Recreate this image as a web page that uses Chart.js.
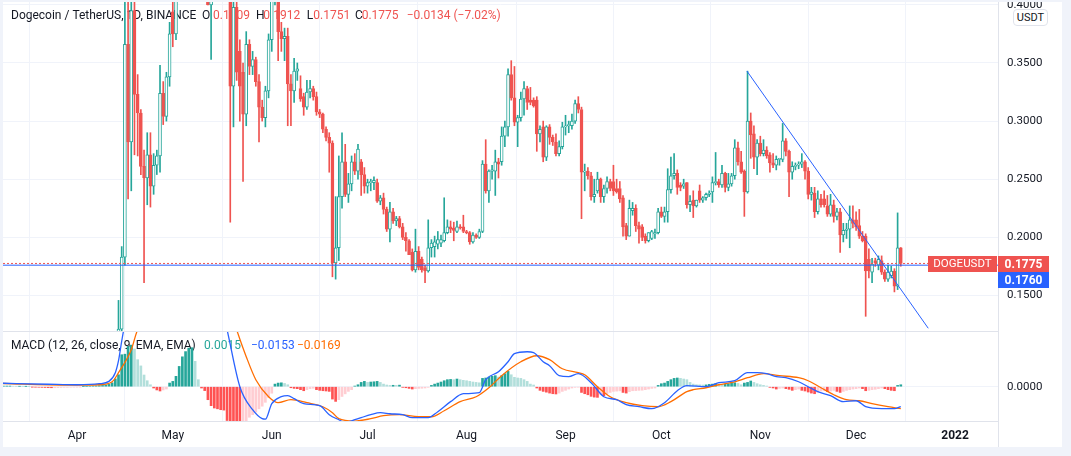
<!DOCTYPE html>
<html><head><meta charset="utf-8">
<script src="https://cdn.jsdelivr.net/npm/chart.js@4.4.1/dist/chart.umd.min.js"></script>
<style>
html,body{margin:0;padding:0;width:1071px;height:456px;overflow:hidden;background:#f0f3fa;}
#wrap{position:absolute;left:3px;top:2px;width:1059px;height:445px;background:#ffffff;overflow:hidden;}
canvas{position:absolute;left:0;}
#cA{top:0;} #cB{top:330px;}
#usdt{position:absolute;left:1010px;top:7px;width:33px;height:15px;border:1px solid #e0e3eb;border-radius:4px;background:#fff;font:11px Roboto,sans-serif;color:#131722;text-align:center;line-height:15px;}
</style></head><body>
<div id="wrap"><canvas id="cA" width="1059" height="330"></canvas><canvas id="cB" width="1059" height="115"></canvas><div id="usdt">USDT</div></div>
<script>
// ---------- data (day index: 0 = 1 Apr 2021) ----------
const monthDays   = [0,30,61,91,122,153,183,214,244,275];
const monthLabels = ['Apr','May','Jun','Jul','Aug','Sep','Oct','Nov','Dec','2022'];
const priceTicks  = [0.15,0.2,0.25,0.3,0.35,0.4];
const macdTicks   = [0];

const candleStart = 12;
const opens = [
.071,.0935,.121,.183,.366,.282,.395,.323,.307,.261,
.251,.271,.244,.262,.270,.324,.304,.338,.394,.375,
.45,.50,.55,.60,.64,.68,.65,.56,.50,.48,
.40,.48,.51,.50,.51,.46,.47,.33,.398,.36,
.342,.306,.366,.347,.353,.334,.312,.303,.326,.37,
.42,.43,.377,.371,.373,.332,.326,.343,.328,.321,
.312,.325,.328,.321,.308,.306,.293,.286,.281,.178,
.191,.235,.265,.237,.246,.265,.257,.265,.254,.244,
.247,.247,.247,.231,.234,.224,.207,.222,.214,.216,
.209,.200,.197,.187,.172,.188,.181,.174,.171,.191,
.192,.194,.195,.197,.204,.209,.208,.205,.209,.209,
.205,.204,.196,.202,.200,.205,.263,.240,.257,.257,
.265,.265,.287,.295,.340,.320,.299,.303,.319,.328,
.318,.318,.318,.289,.295,.269,.295,.286,.282,.272,
.278,.295,.296,.296,.300,.315,.310,.256,.257,.253,
.235,.240,.250,.235,.242,.248,.248,.242,.242,.234,
.210,.201,.223,.225,.210,.209,.201,.197,.199,.203,
.204,.222,.218,.222,.241,.253,.255,.245,.244,.247,
.228,.232,.227,.240,.232,.234,.237,.239,.247,.248,
.245,.255,.243,.246,.253,.277,.265,.257,.239,.300,
.289,.269,.281,.272,.275,.271,.264,.262,.267,.267,
.283,.274,.256,.261,.262,.263,.265,.257,.237,.238,
.222,.233,.233,.227,.220,.228,.218,.222,.202,.206,
.207,.215,.215,.210,.201,.201,.181,.170,.180,.176,
.180,.170,.164,.167,.171,.158,.1909];
const highs = [
.099,.1457,.192,.438,.41,.415,.405,.34,.31,.275,
.29,.29,.272,.275,.348,.334,.342,.385,.405,.48,
.52,.58,.62,.66,.70,.74,.66,.60,.55,.52,
.50,.54,.53,.53,.52,.49,.48,.41,.41,.37,
.35,.377,.37,.36,.355,.34,.318,.33,.375,.43,
.45,.44,.385,.38,.38,.34,.354,.35,.339,.324,
.335,.335,.33,.325,.31,.307,.295,.29,.283,.235,
.27,.29,.28,.255,.27,.272,.28,.267,.26,.25,
.25,.252,.25,.236,.238,.226,.23,.225,.218,.218,
.212,.204,.198,.19,.207,.192,.183,.176,.215,.198,
.201,.205,.202,.234,.215,.214,.213,.214,.211,.219,
.206,.205,.204,.203,.207,.266,.284,.258,.262,.275,
.268,.295,.30,.345,.352,.347,.305,.325,.334,.33,
.329,.32,.321,.296,.30,.296,.297,.288,.289,.283,
.299,.305,.30,.306,.318,.321,.312,.263,.26,.256,
.25,.256,.251,.245,.252,.25,.262,.25,.248,.236,
.212,.232,.23,.228,.213,.211,.203,.204,.206,.207,
.225,.226,.226,.259,.269,.272,.258,.247,.25,.247,
.236,.24,.232,.245,.235,.238,.24,.252,.273,.25,
.262,.256,.255,.255,.284,.282,.274,.258,.343,.307,
.296,.284,.287,.284,.278,.273,.272,.27,.268,.298,
.285,.275,.265,.264,.265,.272,.266,.26,.243,.243,
.24,.237,.24,.236,.237,.232,.225,.225,.212,.212,
.227,.227,.222,.224,.205,.203,.19,.182,.182,.184,
.184,.172,.176,.175,.173,.221,.1912];
const lows = [
.070,.090,.116,.176,.233,.24,.271,.27,.254,.161,
.228,.226,.237,.254,.256,.297,.300,.330,.364,.37,
.42,.48,.52,.56,.60,.62,.50,.45,.45,.40,
.353,.46,.47,.48,.44,.42,.213,.295,.335,.30,
.248,.296,.34,.34,.33,.282,.30,.295,.32,.36,
.40,.352,.36,.352,.296,.296,.316,.335,.317,.305,
.31,.32,.318,.305,.303,.29,.283,.256,.166,.164,
.18,.225,.235,.23,.24,.254,.25,.236,.238,.238,
.24,.241,.23,.228,.22,.205,.196,.212,.21,.208,
.198,.188,.185,.171,.17,.172,.17,.161,.17,.183,
.183,.19,.192,.196,.203,.204,.197,.204,.207,.204,
.203,.194,.195,.199,.199,.204,.238,.23,.25,.236,
.251,.262,.278,.287,.318,.296,.278,.30,.305,.31,
.314,.312,.274,.282,.265,.266,.28,.279,.27,.27,
.276,.288,.29,.293,.298,.307,.216,.24,.25,.232,
.23,.238,.23,.23,.238,.24,.236,.238,.23,.201,
.198,.201,.219,.205,.195,.197,.195,.196,.198,.199,
.203,.217,.213,.213,.238,.25,.237,.24,.242,.225,
.222,.217,.226,.23,.23,.232,.235,.230,.245,.243,
.243,.239,.24,.244,.25,.262,.255,.218,.238,.268,
.259,.254,.27,.27,.268,.256,.26,.258,.262,.265,
.27,.235,.25,.258,.259,.26,.25,.233,.232,.217,
.22,.226,.226,.218,.218,.213,.215,.187,.196,.199,
.191,.208,.206,.199,.196,.132,.165,.161,.175,.172,
.168,.162,.162,.165,.153,.155,.1751];
const closes = [
.0935,.121,.183,.366,.282,.395,.323,.307,.261,.251,
.271,.244,.262,.270,.324,.304,.338,.375,.375,.45,
.50,.55,.60,.64,.68,.65,.56,.50,.48,.40,
.48,.51,.50,.51,.46,.47,.33,.398,.342,.33,
.306,.366,.347,.353,.334,.312,.303,.326,.37,.42,
.43,.377,.371,.373,.332,.326,.343,.345,.319,.312,
.325,.328,.321,.308,.306,.293,.286,.281,.178,.191,
.235,.265,.237,.246,.265,.257,.276,.254,.244,.247,
.248,.249,.231,.234,.224,.207,.222,.214,.216,.209,
.200,.197,.185,.172,.188,.174,.172,.171,.191,.195,
.196,.198,.198,.204,.209,.207,.206,.209,.208,.205,
.204,.196,.202,.200,.205,.263,.240,.257,.258,.265,
.263,.287,.295,.340,.320,.299,.303,.319,.328,.316,
.316,.313,.289,.293,.269,.295,.286,.282,.272,.278,
.295,.296,.297,.300,.315,.310,.256,.257,.253,.235,
.237,.250,.235,.242,.248,.242,.240,.239,.233,.209,
.201,.225,.225,.210,.207,.200,.197,.204,.205,.204,
.222,.218,.222,.241,.253,.255,.243,.243,.246,.228,
.231,.227,.232,.232,.234,.237,.238,.247,.248,.245,
.255,.243,.246,.253,.277,.265,.256,.239,.300,.288,
.269,.281,.272,.275,.270,.264,.262,.267,.268,.283,
.274,.256,.261,.262,.263,.265,.257,.237,.239,.222,
.233,.228,.228,.220,.228,.218,.222,.202,.206,.207,
.215,.212,.209,.201,.197,.171,.171,.177,.178,.181,
.170,.164,.170,.171,.158,.1909,.1775];

// drawn trend line (two anchor points, day / price)
const trendDays   = [209.8, 266.6];
const trendPrices = [0.3431, 0.1217];
const lineLevel   = 0.1760;

// MACD (12, 26, close, 9)
const histStart = -24;
const histVals = [
.0004,.0004,.0005,.0005,.0004,.0003,.0003,.0002,.0002,.0001,
-.0002,-.0003,-.0004,-.0005,-.0006,-.0007,-.0008,-.0008,-.0007,-.0006,-.0005,-.0005,-.0004,-.0003,
-.0002,-.0001,.0002,.0003,.0004,.0005,.0006,.0008,
.0010,.0013,.0018,.0030,
.0060,.0092,.0246,.0250,.0310,.0320,.0290,.0208,.0160,.0090,.0046,.0015,
-.0010,-.0025,-.0033,-.0025,-.0018,
.0028,.0041,.0080,.0156,.0230,.0270,.0297,.0300,.0195,.0054,
-.0010,-.0030,-.0100,-.0146,-.0164,-.0170,-.0177,-.0180,-.0260,-.0290,-.0310,-.0320,-.0330,
-.0290,-.0270,-.0235,-.0215,-.0195,-.0170,-.0150,-.0120,-.0085,-.0050,
.0020,.0028,.0030,.0025,.0015,
-.0008,-.0013,-.0015,-.0023,-.0031,-.0023,-.0015,-.0012,-.0023,-.0028,-.0031,-.0033,-.0036,
-.0095,-.0113,-.0100,-.0075,-.0055,-.0036,-.0023,
.0005,.0015,.0033,.0041,.0033,.0036,.0038,.0041,.0033,.0020,.0013,.0010,.0011,.0010,.0012,
-.0005,-.0008,-.0013,-.0018,-.0015,-.0013,-.0012,-.0010,-.0005,
.0010,.0020,.0028,.0036,.0046,.0054,.0056,.0054,.0059,.0054,.0049,.0046,.0041,.0036,.0033,.0030,
.0064,.0067,.0074,.0080,.0085,.0074,.0085,.0100,.0118,
.0092,.0072,.0067,.0064,.0054,.0041,.0020,.0013,
-.0010,-.0028,-.0036,-.0042,-.0049,-.0054,-.0056,-.0049,-.0036,-.0028,-.0018,-.0010,-.0005,-.0004,
-.0044,-.0054,-.0062,-.0074,-.0080,-.0082,-.0062,-.0069,-.0054,-.0044,-.0036,-.0034,-.0032,-.0044,-.0049,-.0038,-.0031,-.0030,-.0028,-.0027,-.0023,-.0018,-.0013,-.0010,
.0010,.0023,.0028,.0041,.0054,.0064,.0067,
.0064,.0059,.0054,.0033,.0020,.0015,.0014,.0013,
.0014,.0018,.0020,.0023,
.0020,.0015,
.0018,.0023,.0028,.0030,
.0025,.0015,
.0028,.0033,.0044,
.0033,.0023,.0015,.0010,.0005,
-.0005,-.0010,-.0018,
-.0013,-.0010,
-.0015,-.0020,-.0028,
-.0023,-.0018,
-.0028,-.0033,-.0041,-.0049,-.0054,
-.0044,-.0033,-.0031,
-.0038,
-.0033,-.0028,
-.0036,-.0044,
-.0036,-.0028,-.0023,-.0018,-.0015,-.0010,
-.0015,-.0031,
-.0028,-.0023,-.0020,-.0015,-.0010,
-.0015,-.0023,-.0028,-.0031,
.0010,.0015];
const macdDays = [-24,-9,0,7,10,12,13,14,15,17,20,25,32,38,44,47,51,55,58,59,61,64,66,68,71,76,79,82,84,86,89,92,95,98,102,105,110,113,117,121,126,128,132,135,137,141,143,146,148,151,154,157,161,165,169,172,176,180,184,188,191,197,201,206,210,213,216,219,222,226,229,232,236,240,244,247,252,256,258];
const macdVals = [.0027,.0019,.0015,.0023,.0041,.0108,.0200,.0350,.0480,.0600,.0750,.0800,.0900,.1000,.0750,.0438,0,-.0177,-.0246,-.0250,-.0130,-.0077,-.0069,-.0092,-.0131,-.0146,-.0215,-.0254,-.0275,-.0262,-.0238,-.0215,-.0200,-.0208,-.0215,-.0238,-.0238,-.0192,-.0115,-.0054,-.0046,.0054,.0115,.0192,.0254,.0269,.0262,.0192,.0162,.0085,.0077,.0100,.0031,-.0077,-.0100,-.0138,-.0154,-.0169,-.0123,-.0031,.0008,0,.0031,.0046,.0108,.0108,.0100,.0077,.0069,.0038,0,-.0038,-.0069,-.0115,-.0108,-.0154,-.0169,-.0169,-.0153];
const signalDays = [-24,-3,7,11,13,17,19,25,35,44,50,53,56,60,63,67,72,77,80,82,87,92,96,101,107,111,115,120,125,129,133,139,144,148,152,157,159,163,167,172,177,182,186,191,193,197,201,206,210,215,220,226,229,233,237,241,245,249,254,258];
const signalVals = [.0025,.0012,.0015,.0038,.0108,.0285,.0438,.0550,.0700,.0900,.0438,.0231,.0054,-.0077,-.0123,-.0100,-.0123,-.0154,-.0200,-.0246,-.0265,-.0246,-.0223,-.0215,-.0231,-.0231,-.0185,-.0115,-.0077,-.0008,.0085,.0192,.0238,.0208,.0138,.0108,.0092,0,-.0077,-.0123,-.0146,-.0154,-.0115,-.0038,-.0023,-.0008,.0015,.0038,.0069,.0100,.0085,.0069,.0046,-.0008,-.0062,-.0100,-.0108,-.0131,-.0154,-.0169];

// ---------- view ----------
const xMin = -23.175, xMax = 288.44;
const priceMin = 0.11936, priceMax = 0.40249;
const macdMin = -0.02638, macdMax = 0.04208;
const UP = '#26a69a', DOWN = '#ef5350', BLUE = '#2962ff', ORANGE = '#ff6d00';
const GRID = '#f0f3fa', SEP = '#e0e3eb', TXT = '#131722';
Chart.defaults.font.family = 'Roboto, sans-serif';
Chart.defaults.color = TXT;
Chart.defaults.animation = false;

const fmt = v => (v < 0 ? '\u2212' : '') + Math.abs(v).toFixed(4);
const n = opens.length;
const isUp = i => closes[i] >= opens[i];
const bodyData  = opens.map((o,i) => ({x: candleStart+i, y: [o, closes[i]]}));
const upperData = opens.map((o,i) => ({x: candleStart+i, y: [Math.max(o,closes[i]), highs[i]]}));
const lowerData = opens.map((o,i) => ({x: candleStart+i, y: [lows[i], Math.min(o,closes[i])]}));
const candleCol = opens.map((o,i) => isUp(i) ? UP : DOWN);
const bodyFill  = opens.map((o,i) => isUp(i) ? '#ffffff' : DOWN);
const lastC = closes[n-1], prevC = closes[n-2];

function xScale(showLabels){
  return {
    type:'linear', min:xMin, max:xMax, offset:false,
    grid:{color:GRID, lineWidth:1, drawTicks:false},
    border:{display:true, color:SEP},
    ticks:{display:showLabels, autoSkip:false, maxRotation:0, padding:8, color:TXT,
      font:(c)=>({size:12, weight: (c.index===monthDays.length-1)?'bold':'normal'}),
      callback:(v)=>monthLabels[monthDays.indexOf(v)]},
    afterBuildTicks:(s)=>{ s.ticks = monthDays.map(v=>({value:v})); },
    afterFit:(s)=>{ s.paddingLeft=0; s.paddingRight=0; s.height = showLabels ? 26 : 1; }
  };
}
function yScale(min,max,ticks){
  return {
    type:'linear', position:'right', min:min, max:max,
    grid:{color:GRID, lineWidth:1, drawTicks:false},
    border:{display:true, color:SEP},
    ticks:{color:TXT, font:{size:11.5}, padding:9, callback:(v)=>v.toFixed(4)},
    afterBuildTicks:(s)=>{ s.ticks = ticks.map(v=>({value:v})); },
    afterFit:(s)=>{ s.width=64; s.paddingTop=0; s.paddingBottom=0; }
  };
}

const headerPlugin = {
  id:'header',
  beforeDatasetsDraw(chart){
    const ctx = chart.ctx; ctx.save();
    ctx.font = '12px Roboto, sans-serif'; ctx.textBaseline = 'middle'; ctx.textAlign='left';
    const y = 14;
    const ch = lastC - prevC, pct = ch / prevC * 100;
    const segs = [
      ['Dogecoin / TetherUS, 1D, BINANCE', 8, TXT],
      ['O', 199, TXT], [opens[n-1].toFixed(4), 210, DOWN],
      ['H', 253, TXT], [highs[n-1].toFixed(4), 260.3, DOWN],
      ['L', 303.7, TXT], [lows[n-1].toFixed(4), 310.3, DOWN],
      ['C', 352, TXT], [lastC.toFixed(4), 358.7, DOWN],
      [fmt(ch) + ' (' + (pct<0?'\u2212':'') + Math.abs(pct).toFixed(2) + '%)', 403.7, DOWN]
    ];
    segs.forEach(s=>{ ctx.fillStyle=s[2]; ctx.fillText(s[0], s[1], y); });
    ctx.restore();
  },
  afterDraw(chart){
    const ctx = chart.ctx, ys = chart.scales.y, ca = chart.chartArea;
    const yR = Math.round(ys.getPixelForValue(lastC) - 7.5);
    ctx.save();
    ctx.fillStyle = DOWN;
    ctx.fillRect(925, yR, 69, 16);
    ctx.fillRect(ca.right, yR, 51, 16);
    ctx.fillStyle = BLUE;
    ctx.fillRect(ca.right, yR+16, 51, 16);
    ctx.fillStyle = '#ffffff'; ctx.textBaseline='middle'; ctx.textAlign='center';
    ctx.font = '11.5px Roboto, sans-serif';
    ctx.fillText('DOGEUSDT', 959.5, yR+8.5);
    ctx.font = 'bold 12px Roboto, sans-serif';
    ctx.fillText(lastC.toFixed(4), ca.right+25.5, yR+8.5);
    ctx.fillText(lineLevel.toFixed(4), ca.right+25.5, yR+24.5);
    ctx.restore();
  }
};

new Chart(document.getElementById('cA'), {
  type:'bar',
  data:{datasets:[
    {type:'line', data:trendDays.map((d,i)=>({x:d, y:trendPrices[i]})), borderColor:BLUE, borderWidth:1, pointRadius:0},
    {type:'line', data:[{x:xMin,y:lastC},{x:xMax,y:lastC}], borderColor:DOWN, borderWidth:1, borderDash:[2,2], pointRadius:0},
    {type:'line', data:[{x:xMin,y:lineLevel},{x:xMax,y:lineLevel}], borderColor:BLUE, borderWidth:1, pointRadius:0},
    {data:bodyData, backgroundColor:bodyFill, borderColor:candleCol, borderWidth:1, borderSkipped:false, barThickness:3, minBarLength:1, grouped:false},
    {data:upperData, backgroundColor:candleCol, borderWidth:0, barThickness:1, grouped:false},
    {data:lowerData, backgroundColor:candleCol, borderWidth:0, barThickness:1, grouped:false}
  ]},
  options:{
    responsive:false, devicePixelRatio:1, animation:false,
    layout:{padding:0, autoPadding:false},
    plugins:{legend:{display:false}, tooltip:{enabled:false}},
    scales:{ x:xScale(false), y:yScale(priceMin, priceMax, priceTicks) }
  },
  plugins:[headerPlugin]
});

const histColors = histVals.map((v,i)=>{
  const p = i>0 ? histVals[i-1] : 0;
  return v >= 0 ? (v >= p ? '#26a69a' : '#b2dfdb') : (v < p ? '#ff5252' : '#ffcdd2');
});
const macdLegend = {
  id:'macdLegend',
  beforeDatasetsDraw(chart){
    const ctx = chart.ctx; ctx.save();
    ctx.font = '12px Roboto, sans-serif'; ctx.textBaseline='middle'; ctx.textAlign='left';
    const y = 14;
    [['MACD (12, 26, close, 9, EMA, EMA)', 8, TXT],
     [fmt(histVals[histVals.length-1]), 201, UP],
     [fmt(macdVals[macdVals.length-1]), 248, BLUE],
     [fmt(signalVals[signalVals.length-1]), 294, ORANGE]].forEach(s=>{ ctx.fillStyle=s[2]; ctx.fillText(s[0], s[1], y); });
    ctx.restore();
  },
  afterDraw(chart){
    const ctx = chart.ctx, ca = chart.chartArea; ctx.save();
    ctx.strokeStyle = SEP; ctx.lineWidth = 1; ctx.beginPath();
    ctx.moveTo(Math.round(ca.right)+0.5, ca.bottom); ctx.lineTo(Math.round(ca.right)+0.5, chart.height); ctx.stroke();
    ctx.restore();
  }
};
new Chart(document.getElementById('cB'), {
  type:'bar',
  data:{datasets:[
    {type:'line', data:macdDays.map((d,i)=>({x:d, y:macdVals[i]})), borderColor:BLUE, borderWidth:1.3, pointRadius:0, cubicInterpolationMode:'monotone'},
    {type:'line', data:signalDays.map((d,i)=>({x:d, y:signalVals[i]})), borderColor:ORANGE, borderWidth:1.3, pointRadius:0, cubicInterpolationMode:'monotone'},
    {data:histVals.map((v,i)=>({x:histStart+i, y:v})), backgroundColor:histColors, borderWidth:0, barThickness:2, grouped:false}
  ]},
  options:{
    responsive:false, devicePixelRatio:1, animation:false,
    layout:{padding:0, autoPadding:false},
    plugins:{legend:{display:false}, tooltip:{enabled:false}},
    scales:{ x:xScale(true), y:yScale(macdMin, macdMax, macdTicks) }
  },
  plugins:[macdLegend]
});
</script></body></html>
